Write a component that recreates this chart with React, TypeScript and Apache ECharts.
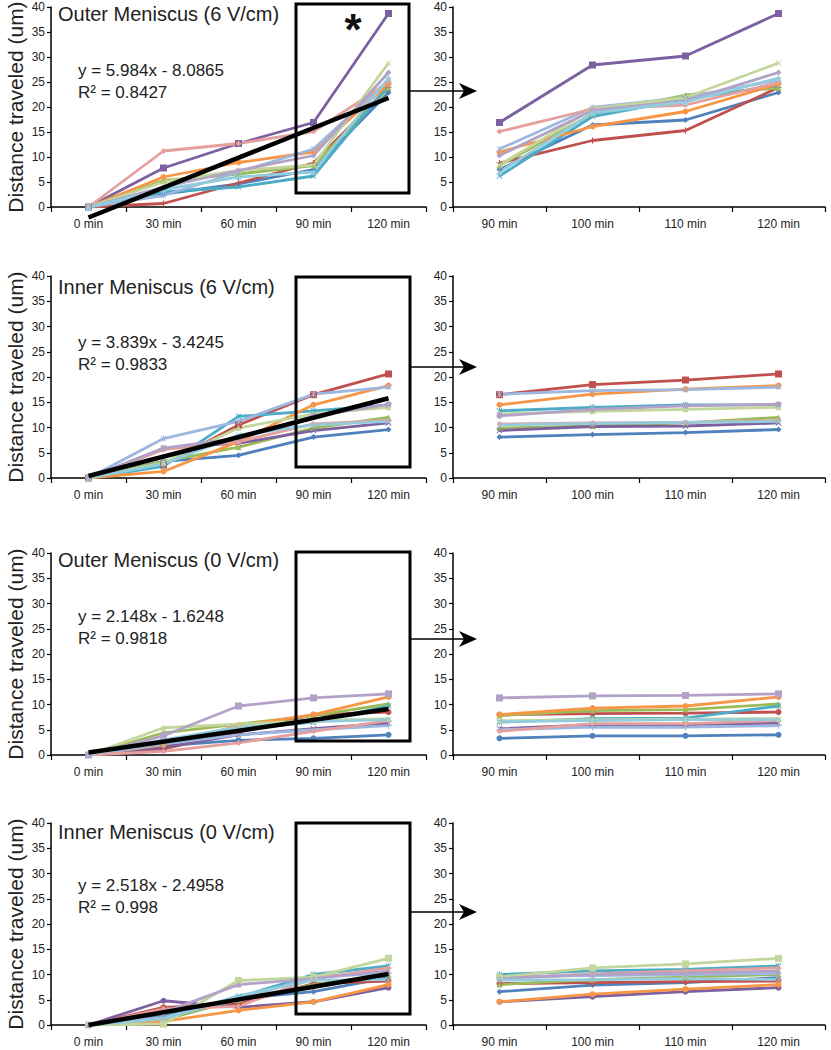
import React, { useEffect, useRef } from "react";
import * as echarts from "echarts";

// ---------- DATA ----------
const timesEarly = ["0 min", "30 min", "60 min", "90 min", "120 min"];
const timesLate = ["90 min", "100 min", "110 min", "120 min"];

const yAxisTitle = "Distance traveled (um)";
const panelTitles = [
  "Outer Meniscus (6 V/cm)",
  "Inner Meniscus (6 V/cm)",
  "Outer Meniscus (0 V/cm)",
  "Inner Meniscus (0 V/cm)",
];
const equations = [
  "y = 5.984x - 8.0865",
  "y = 3.839x - 3.4245",
  "y = 2.148x - 1.6248",
  "y = 2.518x - 2.4958",
];
const rSquared = ["R² = 0.8427", "R² = 0.9833", "R² = 0.9818", "R² = 0.998"];

// trend line values at 0 min and 120 min
const trendStart = [-2.1, 0.4, 0.5, 0.0];
const trendEnd = [21.8, 15.8, 9.1, 10.1];

// series order: blue, red, green, purple, aqua, orange, light blue, pink, light green, light purple, light aqua
// values at 30 and 60 min (0 min is 0)
const outer6Early = [
  [2.6, 4.6], [0.7, 4.8], [5.3, 6.6], [7.8, 12.7], [3.0, 4.0], [6.0, 8.9],
  [2.3, 7.0], [11.2, 12.7], [5.0, 7.3], [4.0, 7.3], [3.5, 6.0],
];
// values at 90, 100, 110, 120 min
const outer6Late = [
  [7.5, 16.4, 17.4, 22.9], [8.8, 13.3, 15.3, 23.9], [8.3, 18.6, 22.4, 23.8],
  [16.9, 28.4, 30.2, 38.7], [6.2, 18.1, 21.6, 24.3], [11.0, 16.1, 19.1, 24.6],
  [11.6, 19.9, 21.9, 25.4], [15.1, 19.6, 20.4, 24.9], [8.4, 19.6, 21.9, 28.8],
  [10.3, 19.3, 21.2, 26.9], [7.0, 18.8, 21.0, 25.8],
];

const inner6Early = [
  [3.3, 4.5], [2.6, 10.5], [3.3, 6.1], [5.9, 6.9], [2.3, 12.2], [1.3, 7.2],
  [7.8, 11.2], [5.6, 7.2], [3.0, 9.9], [5.9, 7.9], [2.8, 8.5],
];
const inner6Late = [
  [8.1, 8.6, 9.0, 9.6], [16.5, 18.5, 19.4, 20.6], [9.9, 10.3, 10.9, 12.0],
  [9.4, 10.2, 10.3, 10.9], [13.3, 14.0, 14.5, 14.5], [14.5, 16.6, 17.6, 18.3],
  [16.6, 17.3, 17.5, 18.0], [10.7, 10.9, 11.0, 11.4], [12.7, 13.2, 13.6, 14.0],
  [12.3, 13.6, 14.3, 14.6], [10.5, 10.8, 11.0, 11.2],
];

const outer0Early = [
  [1.8, 2.9], [1.2, 4.5], [4.4, 6.1], [1.5, 4.0], [2.5, 5.0], [2.0, 5.8],
  [2.2, 4.0], [0.7, 2.4], [5.4, 6.1], [3.8, 9.7], [3.0, 5.5],
];
const outer0Late = [
  [3.3, 3.8, 3.8, 4.0], [8.0, 8.2, 8.3, 8.5], [7.8, 8.8, 9.0, 10.1],
  [5.2, 6.0, 6.0, 6.3], [6.5, 7.2, 7.3, 9.7], [8.0, 9.3, 9.7, 11.5],
  [5.0, 5.5, 5.5, 5.8], [4.7, 6.2, 6.2, 6.8], [6.8, 7.0, 7.1, 7.2],
  [11.3, 11.7, 11.8, 12.1], [6.6, 6.8, 7.0, 7.0],
];

const inner0Early = [
  [1.9, 5.2], [3.5, 4.2], [1.0, 5.0], [4.8, 3.5], [1.3, 5.5], [0.7, 2.9],
  [1.5, 5.0], [3.2, 3.7], [0.2, 8.8], [2.5, 8.0], [1.2, 5.8],
];
const inner0Late = [
  [6.6, 7.9, 8.4, 9.4], [8.2, 8.4, 8.6, 8.7], [8.0, 9.0, 9.5, 10.0],
  [4.6, 5.6, 6.6, 7.4], [10.0, 10.7, 11.0, 11.7], [4.6, 6.1, 7.1, 8.0],
  [9.6, 9.8, 10.0, 10.2], [9.2, 10.1, 10.7, 11.3], [9.5, 11.3, 12.1, 13.2],
  [9.2, 10.0, 10.3, 10.7], [8.9, 9.0, 9.2, 9.0],
];

const panelsEarly = [outer6Early, inner6Early, outer0Early, inner0Early];
const panelsLate = [outer6Late, inner6Late, outer0Late, inner0Late];

// ---------- STYLE ----------
const seriesColors = [
  "#4F81BD", "#C0504D", "#9BBB59", "#7D60A0", "#4BACC6", "#F79646",
  "#9DB7E0", "#E5A09E", "#C3D69B", "#B3A2C7", "#93CDDD",
];
const X_SYM = "path://M1,0L5,4L9,0L10,1L6,5L10,9L9,10L5,6L1,10L0,9L4,5L0,1Z";
const STAR_SYM =
  "path://M1,0L5,4L9,0L10,1L6,5L10,9L9,10L5,6L1,10L0,9L4,5L0,1Z M4.3,0H5.7V10H4.3Z";
const PLUS_SYM = "path://M4,0H6V4H10V6H6V10H4V6H0V4H4Z";
const panelMarkers = [
  ["diamond", PLUS_SYM, "triangle", "rect", X_SYM, "circle", STAR_SYM, "diamond", X_SYM, "diamond", "triangle"],
  ["diamond", "rect", "triangle", X_SYM, STAR_SYM, "circle", STAR_SYM, "diamond", "triangle", "circle", X_SYM],
  ["circle", "circle", "triangle", X_SYM, STAR_SYM, "circle", PLUS_SYM, "diamond", "triangle", "rect", X_SYM],
  ["diamond", "circle", "triangle", "circle", STAR_SYM, "circle", PLUS_SYM, "diamond", "rect", "triangle", X_SYM],
];

const FONT = "'Liberation Sans', Arial, Helvetica, sans-serif";

// layout (px)
const leftGrid = { left: 51, width: 375 };
const rightGrid = { left: 453, width: 372 };
const panelTop = [7, 276, 553, 823];
const panelHeight = [200, 202, 202, 202];
const titleY = [14, 287, 560, 832];
const eqY = [70, 342, 616, 885];
const boxes = [
  [296, 4, 113, 189],
  [296, 277, 114, 190],
  [296, 552, 114, 189],
  [296, 823, 114, 191],
];
const arrowY = [91, 367, 639, 912];

export default function App() {
  const ref = useRef<HTMLDivElement>(null);

  useEffect(() => {
    if (!ref.current) return;
    const chart = echarts.init(ref.current, null, { renderer: "svg" });

    const grids: any[] = [];
    const xAxes: any[] = [];
    const yAxes: any[] = [];
    const series: any[] = [];
    const graphics: any[] = [];

    const axisLabel = { color: "#222", fontSize: 12, fontFamily: FONT };

    for (let p = 0; p < 4; p++) {
      const gl = grids.length;
      const gridBase = {
        top: panelTop[p],
        height: panelHeight[p],
        containLabel: false,
        outerBoundsMode: "none",
      };
      grids.push({ ...gridBase, left: leftGrid.left, width: leftGrid.width });
      grids.push({ ...gridBase, left: rightGrid.left, width: rightGrid.width });

      [timesEarly, timesLate].forEach((cats, k) => {
        xAxes.push({
          type: "category",
          gridIndex: gl + k,
          data: cats,
          boundaryGap: true,
          axisLine: { lineStyle: { color: "#000", width: 1.5 } },
          axisTick: { show: true, interval: 0, length: 5, lineStyle: { color: "#000", width: 1.2 } },
          axisLabel: { ...axisLabel, margin: 11, interval: 0 },
          splitLine: { show: false },
        });
        yAxes.push({
          type: "value",
          gridIndex: gl + k,
          min: 0,
          max: 40,
          interval: 5,
          axisLine: { show: true, lineStyle: { color: "#000", width: 1.5 } },
          axisTick: { show: true, length: 4, lineStyle: { color: "#000", width: 1.2 } },
          axisLabel: { ...axisLabel, margin: 6 },
          splitLine: { show: false },
        });
      });

      const early = panelsEarly[p];
      const late = panelsLate[p];
      early.forEach((e, i) => {
        const l = late[i];
        const common = {
          type: "line",
          symbol: panelMarkers[p][i],
          symbolSize: panelMarkers[p][i] === "rect" ? 7 : 6,
          lineStyle: { width: 2.8, color: seriesColors[i] },
          itemStyle: { color: seriesColors[i] },
          color: seriesColors[i],
          z: 2,
        };
        series.push({
          ...common,
          xAxisIndex: gl,
          yAxisIndex: gl,
          data: [0, e[0], e[1], l[0], l[3]],
        });
        series.push({
          ...common,
          xAxisIndex: gl + 1,
          yAxisIndex: gl + 1,
          data: l,
        });
      });

      series.push({
        type: "line",
        xAxisIndex: gl,
        yAxisIndex: gl,
        symbol: "none",
        clip: false,
        lineStyle: { width: 4.5, color: "#000" },
        color: "#000",
        z: 5,
        data: [
          [0, trendStart[p]],
          [4, trendEnd[p]],
        ],
      });

      // annotations
      graphics.push({
        type: "text",
        x: 15,
        y: panelTop[p] + panelHeight[p] / 2,
        rotation: Math.PI / 2,
        z: 20,
        style: {
          text: yAxisTitle,
          font: `21px ${FONT}`,
          fill: "#222",
          align: "center",
          textAlign: "center",
          verticalAlign: "middle",
          textVerticalAlign: "middle",
        },
      });
      graphics.push({
        type: "text",
        x: 58,
        y: titleY[p],
        z: 20,
        style: {
          text: panelTitles[p],
          font: `20px ${FONT}`,
          fill: "#222",
          verticalAlign: "middle",
          textVerticalAlign: "middle",
        },
      });
      graphics.push({
        type: "text",
        x: 78,
        y: eqY[p],
        z: 20,
        style: {
          text: equations[p],
          font: `17px ${FONT}`,
          fill: "#222",
          verticalAlign: "middle",
          textVerticalAlign: "middle",
        },
      });
      graphics.push({
        type: "text",
        x: 78,
        y: eqY[p] + 22,
        z: 20,
        style: {
          text: rSquared[p],
          font: `17px ${FONT}`,
          fill: "#222",
          verticalAlign: "middle",
          textVerticalAlign: "middle",
        },
      });
      const b = boxes[p];
      graphics.push({
        type: "rect",
        z: 20,
        shape: { x: b[0], y: b[1], width: b[2], height: b[3] },
        style: { fill: "none", stroke: "#000", lineWidth: 3 },
      });
      const ay = arrowY[p];
      graphics.push({
        type: "line",
        z: 20,
        shape: { x1: b[0] + b[2], y1: ay, x2: 466, y2: ay },
        style: { stroke: "#000", lineWidth: 1.5 },
      });
      graphics.push({
        type: "polygon",
        z: 20,
        shape: { points: [[477, ay], [459, ay - 8], [464, ay], [459, ay + 8]] },
        style: { fill: "#000" },
      });
    }

    graphics.push({
      type: "text",
      x: 353,
      y: 29,
      z: 20,
      style: {
        text: "*",
        font: `bold 44px ${FONT}`,
        fill: "#111",
        align: "center",
        textAlign: "center",
        verticalAlign: "middle",
        textVerticalAlign: "middle",
      },
    });

    chart.setOption({
      animation: false,
      backgroundColor: "#fff",
      grid: grids,
      xAxis: xAxes,
      yAxis: yAxes,
      series,
      graphic: graphics,
    });

    return () => chart.dispose();
  }, []);

  return (
    <div
      ref={ref}
      style={{ position: "absolute", left: 0, top: 0, width: 831, height: 1050, background: "#fff" }}
    />
  );
}
